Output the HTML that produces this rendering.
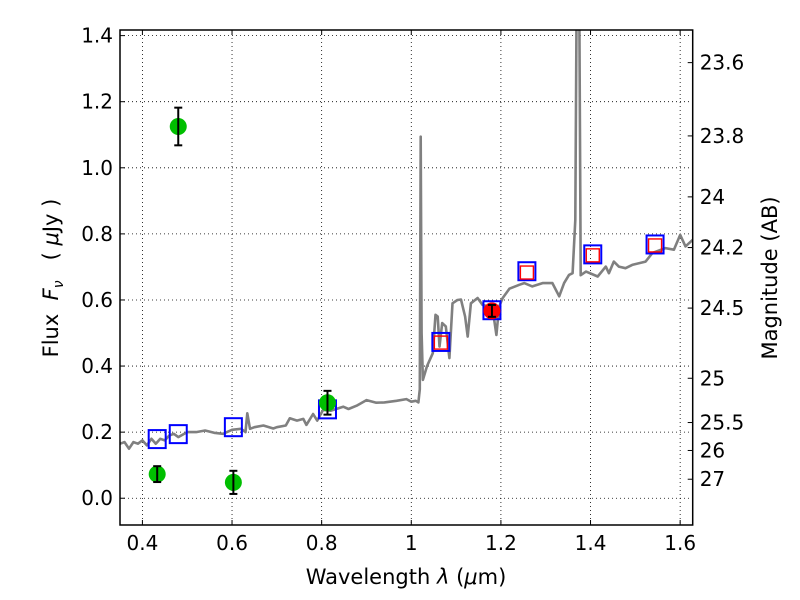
<!DOCTYPE html>
<html><head><meta charset="utf-8">
<style>
html,body{margin:0;padding:0;background:#fff;}
svg{display:block;font-family:"DejaVu Sans","Liberation Sans",sans-serif;}
</style></head>
<body>
<svg id="chart" width="800" height="600" viewBox="0 0 800 600" xmlns="http://www.w3.org/2000/svg">
<rect width="800" height="600" fill="#fff"/>
<g id="grid"></g>
<g id="spec"></g>
<g id="marks"></g>
<g id="axes"></g>
<text x="406" y="584" font-size="21" text-anchor="middle">Wavelength  <tspan font-style="italic">λ</tspan> (<tspan font-style="italic">μ</tspan>m)</text>
<text transform="translate(58,278) rotate(-90)" font-size="21" text-anchor="middle" xml:space="preserve">Flux  <tspan font-style="italic">F</tspan><tspan font-style="italic" font-size="14" dy="5">ν</tspan><tspan dy="-5">   ( </tspan><tspan font-style="italic">μ</tspan>Jy )</text>
<text transform="translate(777,278) rotate(-90)" font-size="21" text-anchor="middle">Magnitude (AB)</text>
</svg>
<script>
const xTicks = [0.4, 0.6, 0.8, 1.0, 1.2, 1.4, 1.6];
const xTickLabels = ["0.4", "0.6", "0.8", "1", "1.2", "1.4", "1.6"];
const yTicks = [0.0, 0.2, 0.4, 0.6, 0.8, 1.0, 1.2, 1.4];
const magTicks = [23.6, 23.8, 24, 24.2, 24.5, 25, 25.5, 26, 27];
const magTickLabels = ["23.6", "23.8", "24", "24.2", "24.5", "25", "25.5", "26", "27"];
const specWave = [0.35,0.36,0.37,0.38,0.39,0.40,0.41,0.42,0.43,0.44,0.45,0.46,0.47,0.48,0.50,0.52,0.54,0.56,0.58,0.60,0.62,0.63,0.634,0.64,0.65,0.67,0.692,0.70,0.72,0.729,0.745,0.759,0.766,0.781,0.79,0.803,0.82,0.848,0.86,0.878,0.9,0.922,0.94,0.967,0.989,1.0,1.01,1.016,1.019,1.021,1.023,1.026,1.035,1.048,1.054,1.059,1.063,1.069,1.077,1.085,1.092,1.103,1.111,1.12,1.126,1.133,1.148,1.159,1.174,1.185,1.19,1.196,1.204,1.219,1.241,1.252,1.27,1.293,1.315,1.33,1.341,1.352,1.36,1.366,1.369,1.372,1.375,1.378,1.39,1.416,1.434,1.441,1.452,1.463,1.478,1.493,1.523,1.538,1.567,1.586,1.6,1.612,1.628];
const specFlux = [0.165,0.17,0.15,0.17,0.165,0.175,0.16,0.18,0.165,0.18,0.175,0.19,0.195,0.185,0.2,0.2,0.205,0.198,0.195,0.207,0.21,0.2,0.257,0.21,0.215,0.22,0.211,0.215,0.22,0.242,0.235,0.24,0.222,0.255,0.235,0.267,0.265,0.277,0.27,0.28,0.297,0.289,0.29,0.295,0.3,0.292,0.295,0.29,0.33,1.094,0.5,0.358,0.4,0.439,0.555,0.55,0.459,0.53,0.52,0.424,0.59,0.6,0.601,0.55,0.489,0.59,0.606,0.585,0.58,0.54,0.494,0.58,0.606,0.634,0.646,0.651,0.641,0.651,0.651,0.611,0.651,0.676,0.681,0.842,1.5,1.5,1.5,0.675,0.686,0.671,0.701,0.681,0.716,0.701,0.696,0.706,0.716,0.742,0.757,0.752,0.797,0.762,0.782];
const photWave = [0.433, 0.48, 0.603, 0.813];
const photFlux = [0.073, 1.125, 0.048, 0.289];
const photErr = [0.024, 0.057, 0.035, 0.036];
const nirWave = [1.18];
const nirFlux = [0.567];
const nirErr = [0.018];
const synWave = [0.433, 0.48, 0.603, 0.813, 1.066, 1.18, 1.258, 1.405, 1.544];
const synFlux = [0.179, 0.194, 0.215, 0.269, 0.473, 0.569, 0.687, 0.738, 0.768];
const modWave = [1.066, 1.258, 1.405, 1.544];
const modFlux = [0.471, 0.683, 0.735, 0.765];

const L=120,R=692.7,T=30,B=525, XMIN=0.35, XMAX=1.628, YMIN=-0.081, YMAX=1.417;
const sx=v=>L+(v-XMIN)/(XMAX-XMIN)*(R-L);
const sy=v=>B-(v-YMIN)/(YMAX-YMIN)*(B-T);
const NS="http://www.w3.org/2000/svg";
function mk(tag,parent,attrs){const e=document.createElementNS(NS,tag);for(const k in attrs)e.setAttribute(k,attrs[k]);parent.appendChild(e);return e;}
const grid=document.getElementById('grid'),spec=document.getElementById('spec'),marks=document.getElementById('marks'),axes=document.getElementById('axes');

xTicks.forEach((t,i)=>{
  const x=sx(t);
  const g=mk('line',grid,{x1:x,x2:x,y1:T,y2:B,stroke:'#000','stroke-width':0.8,'stroke-dasharray':'1,3'});
  
  
  mk('line',axes,{x1:x,x2:x,y1:B,y2:B-5,stroke:'#000','stroke-width':1});
  mk('line',axes,{x1:x,x2:x,y1:T,y2:T+5,stroke:'#000','stroke-width':1});
  const lb=mk('text',axes,{x:x,y:B+25,'font-size':20,'text-anchor':'middle'});
  lb.textContent=xTickLabels[i];
  
  
});
yTicks.forEach(t=>{
  const y=sy(t);
  const g=mk('line',grid,{x1:L,x2:R,y1:y,y2:y,stroke:'#000','stroke-width':0.8,'stroke-dasharray':'1,3'});
  
  
  mk('line',axes,{x1:L,x2:L+5,y1:y,y2:y,stroke:'#000','stroke-width':1});
  const lb=mk('text',axes,{x:L-7,y:y+7,'font-size':20,'text-anchor':'end'});
  lb.textContent=t.toFixed(1);
  
  
});
magTicks.forEach((m,i)=>{
  const f=Math.pow(10,(23.9-m)/2.5);
  const y=sy(f);
  mk('line',axes,{x1:R,x2:R-5,y1:y,y2:y,stroke:'#000','stroke-width':1});
  const lb=mk('text',axes,{x:R+7,y:y+7,'font-size':20,'text-anchor':'start'});
  lb.textContent=magTickLabels[i];
  
  
});

const cp=mk('clipPath',spec,{id:'clip'});mk('rect',cp,{x:L,y:T,width:R-L,height:B-T});
const pth=mk('path',spec,{d:specWave.map((w,i)=>(i?'L':'M')+sx(w).toFixed(1)+','+sy(specFlux[i]).toFixed(1)).join(''),fill:'none',stroke:'#808080','stroke-width':2.6,'stroke-linejoin':'round','clip-path':'url(#clip)'});



synWave.forEach((w,i)=>{
  const s=mk('rect',marks,{x:sx(w)-8.5,y:sy(synFlux[i])-9,width:17,height:18,fill:'none',stroke:'#0000ff','stroke-width':2});
  
  
});
modWave.forEach((w,i)=>{
  const s=mk('rect',marks,{x:sx(w)-6.5,y:sy(modFlux[i])-6.5,width:13,height:13,fill:'none',stroke:'#ff0000','stroke-width':1.4});
  
  
});
function circ(w,f,e,col,name){
  const c=mk('circle',marks,{cx:sx(w),cy:sy(f),r:8.5,fill:col});
  
  
  const x=sx(w),y1=sy(f-e),y2=sy(f+e);
  mk('line',marks,{x1:x,x2:x,y1:y1,y2:y2,stroke:'#000','stroke-width':2});
  mk('line',marks,{x1:x-4,x2:x+4,y1:y1,y2:y1,stroke:'#000','stroke-width':2});
  mk('line',marks,{x1:x-4,x2:x+4,y1:y2,y2:y2,stroke:'#000','stroke-width':2});
}
photWave.forEach((w,i)=>circ(w,photFlux[i],photErr[i],'#00bf00','optical-photometry-point'));
nirWave.forEach((w,i)=>circ(w,nirFlux[i],nirErr[i],'#ff0000','nir-photometry-point'));

const fr=mk('rect',axes,{x:L,y:T,width:R-L,height:B-T,fill:'none',stroke:'#000','stroke-width':1.5});


</script>
</body></html>
